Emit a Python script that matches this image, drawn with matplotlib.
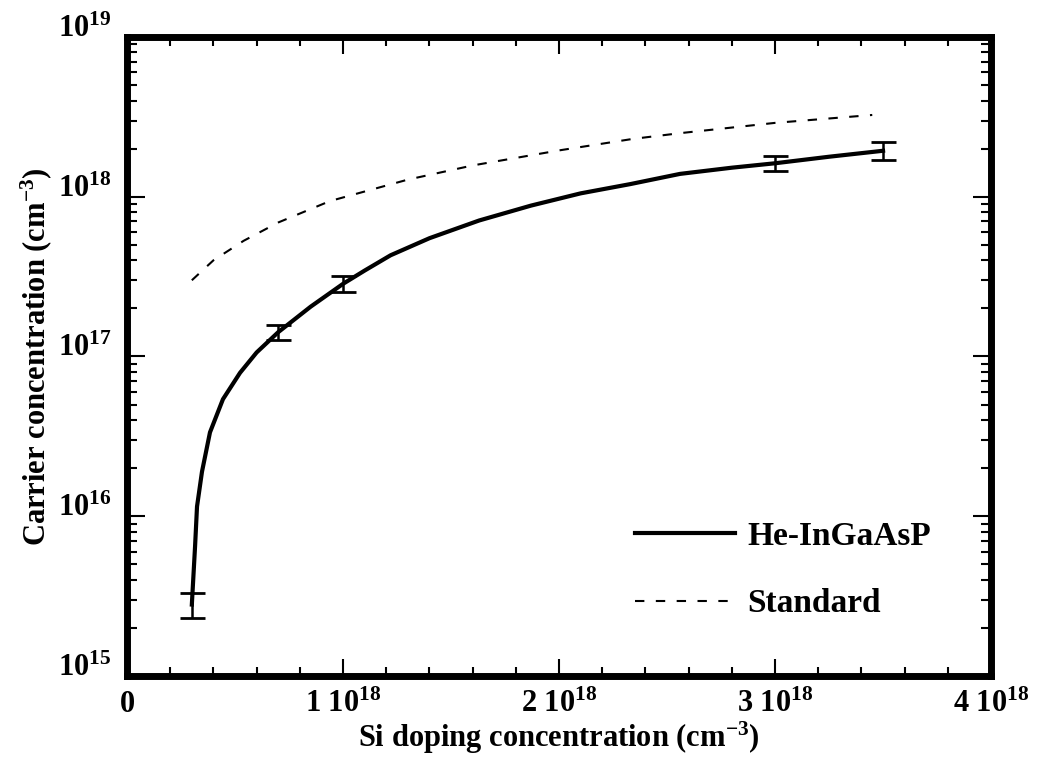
import numpy as np
import matplotlib
matplotlib.use("Agg")
import matplotlib.pyplot as plt
from matplotlib.ticker import LogLocator, MultipleLocator, NullFormatter, FixedLocator

plt.rcParams['font.family'] = ['Liberation Serif', 'DejaVu Serif']
plt.rcParams['font.weight'] = 'bold'
plt.rcParams['mathtext.fontset'] = 'custom'
plt.rcParams['mathtext.rm'] = 'Liberation Serif:bold'
plt.rcParams['mathtext.it'] = 'Liberation Serif:bold'
plt.rcParams['mathtext.bf'] = 'Liberation Serif:bold'
plt.rcParams['mathtext.default'] = 'rm'

# He-InGaAsP curve
he_x = [0.30e18, 0.315e18, 0.324e18, 0.347e18, 0.384e18, 0.444e18, 0.523e18, 0.60e18,
        0.70e18, 0.85e18, 1.0e18, 1.1e18, 1.22e18, 1.40e18, 1.63e18, 1.87e18, 2.10e18,
        2.33e18, 2.56e18, 2.8e18, 3.0e18, 3.25e18, 3.5e18]
he_y = [2.8e15, 6.5e15, 1.15e16, 1.9e16, 3.35e16, 5.4e16, 7.9e16, 1.06e17,
        1.42e17, 2.05e17, 2.85e17, 3.45e17, 4.3e17, 5.5e17, 7.1e17, 8.8e17, 1.05e18,
        1.2e18, 1.39e18, 1.52e18, 1.62e18, 1.78e18, 1.94e18]

# measured points with error bars
pt_x = [0.3e18, 0.7e18, 1.0e18, 3.0e18, 3.5e18]
pt_y = [2.8e15, 1.42e17, 2.85e17, 1.62e18, 1.94e18]
pt_lo = [2.3e15, 1.26e17, 2.55e17, 1.45e18, 1.7e18]
pt_hi = [3.3e15, 1.58e17, 3.2e17, 1.8e18, 2.2e18]

# Standard curve
std_x = [0.3e18, 0.4e18, 0.54e18, 0.7e18, 0.94e18, 1.08e18, 1.3e18, 1.6e18,
         2.0e18, 2.34e18, 2.56e18, 3.0e18, 3.45e18]
std_y = [0.3e18, 0.4e18, 0.53e18, 0.69e18, 0.94e18, 1.06e18, 1.28e18, 1.57e18,
         1.95e18, 2.3e18, 2.5e18, 2.9e18, 3.25e18]

xtick_vals = [0, 1e18, 2e18, 3e18, 4e18]
xtick_labels = ['0', '1 $10^{18}$', '2 $10^{18}$', '3 $10^{18}$', '4 $10^{18}$']

fig = plt.figure(figsize=(10.37, 7.58), dpi=100)
ax = fig.add_axes([0.1225, 0.1082, 0.8332, 0.8430])

ax.plot(he_x, he_y, color='black', lw=3.0, label='He-InGaAsP')
ax.plot(std_x, std_y, color='black', lw=1.5, dashes=(4.5, 5.5), label='Standard')

yerr = [np.array(pt_y) - np.array(pt_lo), np.array(pt_hi) - np.array(pt_y)]
ax.errorbar(pt_x, pt_y, yerr=yerr, fmt='none', ecolor='black', elinewidth=1.8,
            capsize=9, capthick=2)

ax.set_yscale('log')
ax.set_xlim(0, 4e18)
ax.set_ylim(1e15, 1e19)

ax.xaxis.set_major_locator(FixedLocator(xtick_vals))
ax.set_xticklabels(xtick_labels)
ax.xaxis.set_minor_locator(MultipleLocator(2e17))
ax.yaxis.set_major_locator(LogLocator(base=10, numticks=10))
ax.yaxis.set_minor_locator(LogLocator(base=10, subs=np.arange(2, 10), numticks=20))
ax.yaxis.set_minor_formatter(NullFormatter())

for s in ax.spines.values():
    s.set_linewidth(5)

ax.tick_params(which='both', direction='in', top=True, right=True, width=1.5, labelsize=22)
ax.tick_params(axis='y', which='major', length=13, pad=11)
ax.tick_params(axis='y', which='minor', length=7)
ax.tick_params(axis='x', which='major', length=12, pad=10)
ax.tick_params(axis='x', which='minor', length=6.5)
for lab in ax.get_yticklabels():
    lab.set_verticalalignment('baseline')

ax.set_xlabel('Si doping concentration (cm$^{-3}$)', fontsize=22, fontweight='bold')
ax.set_ylabel('Carrier concentration (cm$^{-3}$)', fontsize=22, fontweight='bold')
ax.xaxis.set_label_coords(0.5, -0.068)
ax.yaxis.set_label_coords(-0.085, 0.5)

ax.legend(loc='center left', bbox_to_anchor=(0.588, 0.166), frameon=False,
          fontsize=24, handlelength=3.0, handletextpad=0.36, labelspacing=1.1,
          borderpad=0, borderaxespad=0)

fig.savefig('out.png', dpi=100)
